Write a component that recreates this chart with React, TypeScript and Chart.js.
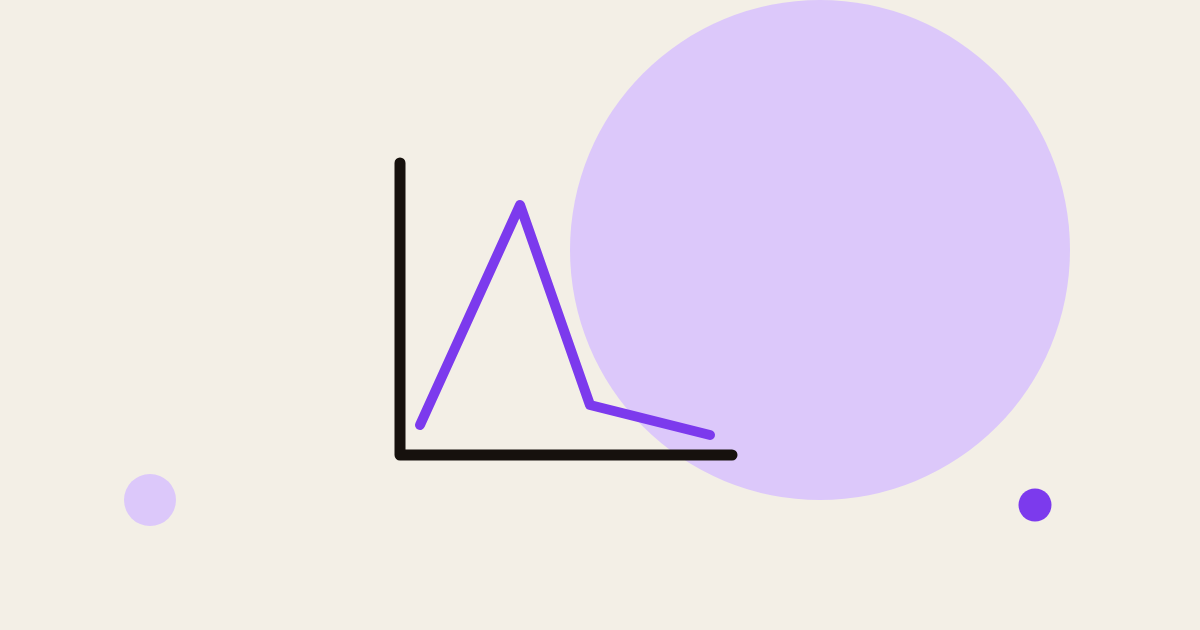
import { useEffect, useRef } from 'react';
import { Chart, registerables } from 'chart.js';
Chart.register(...registerables);

// plot units: 1 unit = 10px, origin at the axis corner
const lineX = [2, 12, 19, 31];
const lineY = [3, 25, 5, 2];

const axisX = [0, 0, 33.2];
const axisY = [29.2, 0, 0];

const circleX = [42, -25, 63.5];
const circleY = [20.5, -4.5, -5];
const circleR = [250, 26, 16.5];
const circleColors = ['#dcc8fa', '#dcc8fa', '#7c3aed'];

const xRange = [-40, 80];
const yRange = [-17.5, 45.5];

export default function App() {
  const ref = useRef<HTMLCanvasElement>(null);

  useEffect(() => {
    document.body.style.margin = '0';
    const chart = new Chart(ref.current!, {
      type: 'bubble',
      data: {
        datasets: [
          {
            type: 'line',
            data: lineX.map((x, i) => ({ x, y: lineY[i] })),
            borderColor: '#7c3aed',
            borderWidth: 10,
            borderCapStyle: 'round',
            borderJoinStyle: 'round',
            pointRadius: 0,
            tension: 0,
            fill: false,
            clip: false,
            order: 0,
          } as any,
          {
            type: 'line',
            data: axisX.map((x, i) => ({ x, y: axisY[i] })),
            borderColor: '#16110d',
            borderWidth: 11,
            borderCapStyle: 'round',
            borderJoinStyle: 'round',
            pointRadius: 0,
            tension: 0,
            fill: false,
            clip: false,
            order: 1,
          } as any,
          {
            type: 'bubble',
            data: circleX.map((x, i) => ({ x, y: circleY[i], r: circleR[i] })),
            backgroundColor: circleColors,
            borderWidth: 0,
            hoverRadius: 0,
            clip: false,
            order: 2,
          },
        ],
      },
      options: {
        responsive: false,
        animation: false,
        events: [],
        layout: { padding: 0, autoPadding: false },
        plugins: { legend: { display: false }, tooltip: { enabled: false } },
        scales: {
          x: { type: 'linear', display: false, min: xRange[0], max: xRange[1] },
          y: { type: 'linear', display: false, min: yRange[0], max: yRange[1] },
        },
      },
    });
    return () => chart.destroy();
  }, []);

  return (
    <div style={{ width: 1200, height: 630, background: '#f3efe6', overflow: 'hidden' }}>
      <canvas ref={ref} width={1200} height={630} style={{ display: 'block' }} />
    </div>
  );
}
